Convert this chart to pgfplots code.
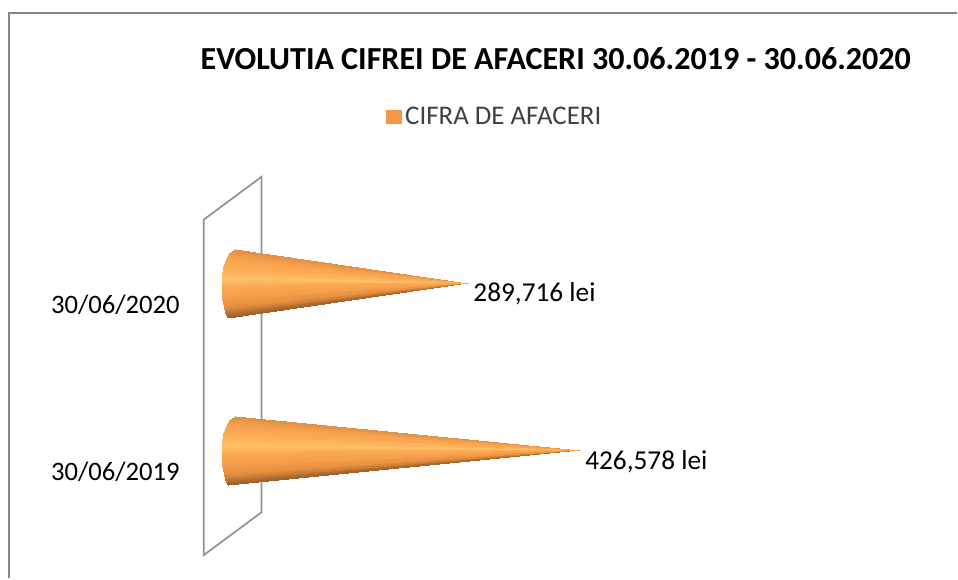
\documentclass[border=0pt]{standalone}
\usepackage{fontspec}
\setmainfont{Carlito}
\usepackage{pgfplots}
\usepackage{pgfplotstable}
\usepgfplotslibrary{patchplots}
\pgfplotsset{compat=1.18}
\definecolor{framegray}{RGB}{134,134,134}
\definecolor{swatch}{RGB}{247,150,70}
\definecolor{legtext}{RGB}{64,64,64}
% base outline of a cone, one triangle per 3 rows: offsets from the category,
% t=1 marks the tip (x is then the value)
\pgfplotstableread{
x dy t m
4888 0.2024 0 -34
-1833 0.1786 0 -30
0 0 1 -32
-1833 0.1786 0 -30
-6110 0.1429 0 -24
0 0 1 -27
-6110 0.1429 0 -24
-9165 0.0952 0 -16
0 0 1 -20
-9165 0.0952 0 -16
-10387 0.0476 0 -8
0 0 1 -12
-10387 0.0476 0 -8
-10998 0 0 0
0 0 1 -4
-10998 0 0 0
-10998 -0.0476 0 8
0 0 1 4
-10998 -0.0476 0 8
-10387 -0.0952 0 16
0 0 1 12
-10387 -0.0952 0 16
-8554 -0.1429 0 24
0 0 1 20
-8554 -0.1429 0 24
-6721 -0.1786 0 30
0 0 1 27
-6721 -0.1786 0 30
-3666 -0.2083 0 35
0 0 1 32
}\coneprofile
\begin{document}
\begin{tikzpicture}
\begin{axis}[
  scale only axis, width=718.5pt, height=434.25pt,
  xmin=-282282, xmax=888394, ymin=-0.762, ymax=2.6845,
  axis line style={draw=none}, tick style={draw=none},
  xtick=\empty, ytick={0,1}, yticklabels={30/06/2019,30/06/2020},
  yticklabel style={anchor=east, font=\fontsize{20}{22}\selectfont, text=black, xshift=138.5pt, yshift=-16.5pt},
  clip=false,
  title={\textbf{EVOLUTIA CIFREI DE AFACERI 30.06.2019 - 30.06.2020}},
  title style={at={(0.581,0.884)}, anchor=center, font=\fontsize{24.1}{26}\selectfont},
  legend style={at={(0.403,0.798)}, anchor=west, draw=none, fill=none, inner sep=0pt,
    font=\fontsize{20.2}{22}\selectfont, text=legtext},
  colormap={cone}{rgb255=(220,140,65) rgb255=(248,162,78) rgb255=(252,172,86)
    rgb255=(255,192,104) rgb255=(250,166,80) rgb255=(244,158,74)
    rgb255=(226,140,62) rgb255=(150,92,40)},
  point meta min=-35, point meta max=35,
]
% frame
\addplot[framegray, line width=2.15pt, forget plot] coordinates {(-271284,-0.762) (-271284,2.607) (888394,2.607)};
% back wall
\addplot[framegray!90, line width=1.3pt, forget plot] coordinates {(-32994,1.375) (37882,1.631) (37882,-0.369) (-32994,-0.625) (-32994,1.375)};
% cones
\addplot[patch, patch type=triangle, shader=interp, forget plot, point meta=explicit]
  table[x expr=\thisrow{x}+\thisrow{t}*289716, y expr=1+\thisrow{dy}, meta=m] {\coneprofile};
\addplot[patch, patch type=triangle, shader=interp, forget plot, point meta=explicit]
  table[x expr=\thisrow{x}+\thisrow{t}*426578, y expr=\thisrow{dy}, meta=m] {\coneprofile};
% value labels
\addplot[draw=none, forget plot, point meta=x,
  nodes near coords={\pgfmathprintnumber[fixed, precision=0, 1000 sep={,}, assume math mode=true]{\pgfplotspointmeta} lei},
  nodes near coords style={anchor=west, font=\fontsize{20.5}{22}\selectfont, text=black, yshift=-8.5pt, xshift=1pt}]
  coordinates {(289716,1) (426578,0)};
\addlegendimage{legend image code/.code={\fill[swatch] (0pt,-5.2pt) rectangle (11.2pt,5.2pt);}}
\addlegendentry{\hspace{1pt}CIFRA DE AFACERI}
\end{axis}
\end{tikzpicture}
\end{document}
